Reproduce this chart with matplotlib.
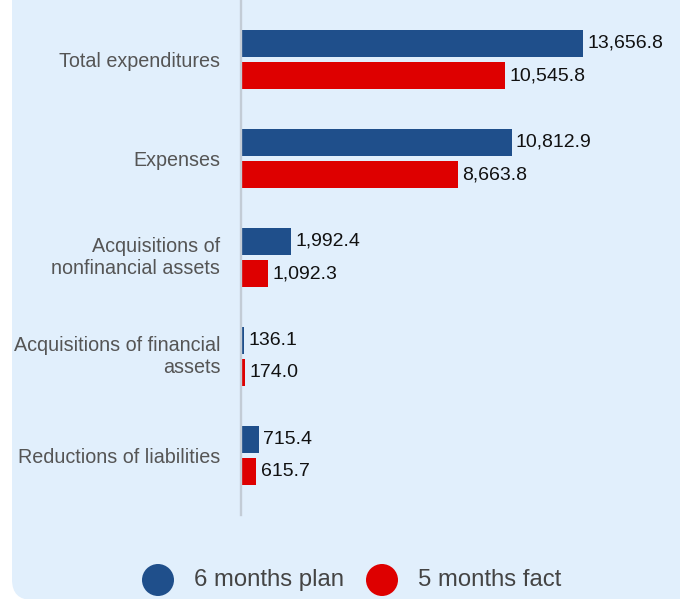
import numpy as np
import matplotlib.pyplot as plt
from matplotlib.patches import FancyBboxPatch, Circle

plt.rcParams['font.family'] = ['Liberation Sans', 'DejaVu Sans']

categories = ["Total expenditures", "Expenses", "Acquisitions of\nnonfinancial assets",
              "Acquisitions of financial\nassets", "Reductions of liabilities"]
plan_6m = [13656.8, 10812.9, 1992.4, 136.1, 715.4]
fact_5m = [10545.8, 8663.8, 1092.3, 174.0, 615.7]
series_names = ["6 months plan", "5 months fact"]

blue = "#1f4f8b"
red = "#de0000"
panel = "#e1effc"

W, H = 680, 599
fig = plt.figure(figsize=(W / 100, H / 100), dpi=100)
fig.patch.set_facecolor("white")

def fx(px):
    return px / W

def fy(py):
    return 1 - py / H

# rounded light-blue panel, mostly running off the canvas
bg = FancyBboxPatch((fx(12), fy(600)), fx(720), fy(-40) - fy(600),
                    boxstyle="round,pad=0,rounding_size=0.03",
                    transform=fig.transFigure, facecolor=panel, edgecolor="none",
                    mutation_aspect=W / H, zorder=-5)
fig.patches.append(bg)

ax = fig.add_axes([fx(241), fy(515), fx(W - 241), 515 / H])
ax.set_facecolor("none")
ax.set_zorder(1)

y = np.arange(len(categories))
h = 0.273
off = 0.162
ax.barh(y - off, plan_6m, height=h, color=blue, zorder=2)
ax.barh(y + off, fact_5m, height=h, color=red, zorder=2)

for vals, d in ((plan_6m, -off), (fact_5m, off)):
    for i, v in enumerate(vals):
        ax.annotate(f"{v:,.1f}", (v, i + d), xytext=(3, 0), textcoords="offset points",
                    va="center", ha="left", fontsize=14, color="#111111")

ax.set_xlim(0, 17530)
ax.set_ylim(len(categories) - 1 + 0.601, -0.601)
ax.set_yticks(y)
ax.set_yticklabels(categories, fontsize=14.2, color="#555555", linespacing=1.25)
for lbl in ax.get_yticklabels():
    if "\n" in lbl.get_text():
        lbl.set_va("center")
ax.tick_params(axis="y", length=0, pad=15)
ax.set_xticks([])
for s in ("top", "right", "bottom"):
    ax.spines[s].set_visible(False)
ax.spines["left"].set_color("#c3ccd6")
ax.spines["left"].set_linewidth(1.7)
ax.spines["left"].set_zorder(3)

# legend
for cx, tx, col, name in ((158, 194, blue, series_names[0]), (382, 418, red, series_names[1])):
    fig.patches.append(Circle((cx, H - 580), 16, transform=None, facecolor=col,
                              edgecolor="none", zorder=3))
    fig.text(fx(tx), fy(580), name, fontsize=17.2, color="#444444", va="center", ha="left")

fig.savefig("out.png", dpi=100)
